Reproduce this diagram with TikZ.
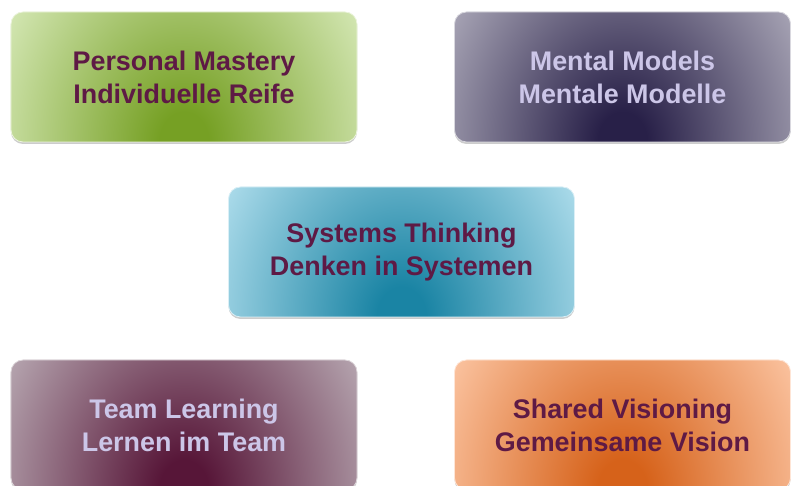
\documentclass[tikz,border=0pt]{standalone}
\usepackage{fontspec}
\setmainfont{Liberation Sans}
\usepackage{tikz}
\usetikzlibrary{shadows}

\definecolor{plum}{HTML}{5E1A45}
\definecolor{lilac}{HTML}{CCC6E8}
\definecolor{greenin}{HTML}{76A024}   \definecolor{greenout}{HTML}{D4E7B4}
\definecolor{navyin}{HTML}{282048}    \definecolor{navyout}{HTML}{ABA8B8}
\definecolor{bluein}{HTML}{1A84A4}    \definecolor{blueout}{HTML}{ADDCEB}
\definecolor{maroonin}{HTML}{571638}  \definecolor{maroonout}{HTML}{B6A6B0}
\definecolor{orangein}{HTML}{D6621A}  \definecolor{orangeout}{HTML}{FCC6A4}

% glow from the bottom edge, colours set per box
\pgfdeclareradialshading[glowin,glowout]{glow}{\pgfpointorigin}{%
  color(0bp)=(glowin); color(3bp)=(glowin); color(25bp)=(glowout);
  color(50bp)=(glowout)}

\begin{document}
\begin{tikzpicture}[x=1bp,y=1bp,
    box/.style 2 args={rounded corners=12bp, minimum width=346bp,
      minimum height=130bp, inner sep=0pt, align=center,
      font=\bfseries\fontsize{27}{33}\selectfont,
      fill=#2, draw=#2!45!white, line width=0.8bp,
      drop shadow={shadow xshift=0bp, shadow yshift=-2bp,
        fill=black!40, opacity=.5},
      path picture={\colorlet{glowin}{#1}\colorlet{glowout}{#2}
        \shade[shading=glow] (path picture bounding box.south)
          ellipse [x radius=205bp, y radius=250bp];}}
    ]

  \useasboundingbox (0,0) rectangle (792,486);
  \clip (0,0) rectangle (792,486);

  \node[box={greenin}{greenout}, text=plum] (mastery) at (184,409)
    {Personal Mastery\\Individuelle Reife};
  \node[box={navyin}{navyout}, text=lilac, minimum width=336bp] (models)
    at (622.5,409) {Mental Models\\Mentale Modelle};
  \node[box={bluein}{blueout}, text=plum] (systems) at (401.5,234)
    {Systems Thinking\\Denken in Systemen};
  \node[box={maroonin}{maroonout}, text=lilac] (team) at (184,61)
    {Team Learning\\Lernen im Team};
  \node[box={orangein}{orangeout}, text=plum, minimum width=336bp] (vision)
    at (622.5,61) {Shared Visioning\\Gemeinsame Vision};
\end{tikzpicture}
\end{document}
